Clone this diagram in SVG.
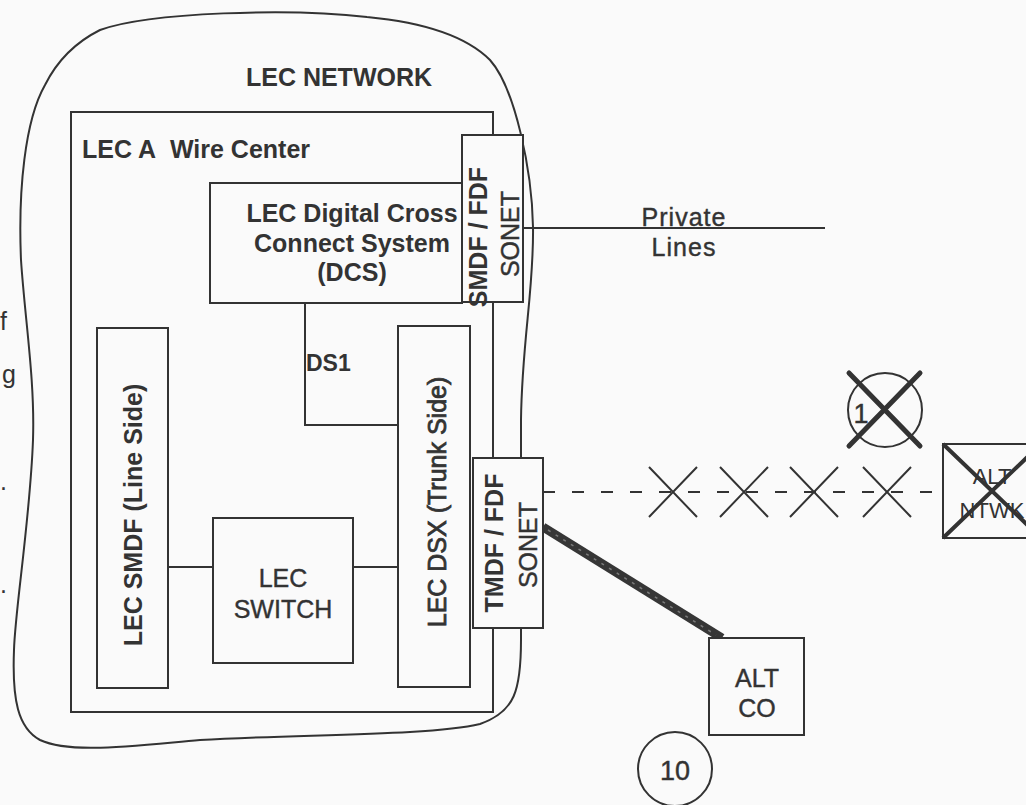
<svg xmlns="http://www.w3.org/2000/svg" width="1026" height="805" viewBox="0 0 1026 805">
<style>
.ln{fill:none;stroke:#333;stroke-width:2}
.bx{fill:#fafafa;stroke:#333;stroke-width:2}
.t{font-family:"Liberation Sans",Arial,sans-serif;font-size:25px;fill:#333}
.r{stroke:#333;stroke-width:0.4}
.b{font-weight:bold}
.m{text-anchor:middle}
</style>
<rect width="1026" height="805" fill="#fafafa"/>
<g id="lec-network">
<path class="ln" d="M100,30 C150,12 290,8 367,17 C420,22 465,35 490,60 C515,88 532,170 533,227 C534,290 522,340 521,420 L521,640 C521,690 515,712 480,724 C430,736 300,734 200,740 C130,746 70,754 40,740 C18,728 12,700 14,650 C15,610 30,520 33,440 C35,380 25,320 21,260 C18,190 25,120 45,85 C60,55 80,40 100,30 Z"/>
<text class="t b m" x="339" y="86">LEC NETWORK</text>
</g>
<g id="wire-center">
<rect class="ln" x="71" y="112" width="422" height="600"/>
<text class="t b" x="82" y="158">LEC A&#160; Wire Center</text>
</g>
<g id="connectors">
<polyline class="ln" points="305,303 305,425 398,425"/>
<line class="ln" x1="168" y1="567" x2="213" y2="567"/>
<line class="ln" x1="353" y1="567" x2="398" y2="567"/>
<line class="ln" x1="523" y1="228" x2="825" y2="228"/>
<line class="ln" x1="543" y1="492" x2="935" y2="492" stroke-dasharray="12 17"/>
<line x1="543" y1="527" x2="722" y2="638" stroke="#363636" stroke-width="9"/>
<line x1="548" y1="530" x2="716" y2="635" stroke="#7a7a7a" stroke-width="1.5" stroke-dasharray="3 6"/>
<g class="ln">
<path d="M649,467 L697,517 M697,467 L649,517"/>
<path d="M720,467 L768,517 M768,467 L720,517"/>
<path d="M790,467 L838,517 M838,467 L790,517"/>
<path d="M863,467 L911,517 M911,467 L863,517"/>
</g>
<text class="t r m" x="684" y="226" style="letter-spacing:1px">Private</text>
<text class="t r m" x="684" y="256" style="letter-spacing:1px">Lines</text>
<text class="t b" x="306" y="371" style="font-size:23px">DS1</text>
</g>
<g id="dcs">
<rect class="bx" x="210" y="183" width="252" height="120"/>
<text class="t b m" x="352" y="222">LEC Digital Cross</text>
<text class="t b m" x="352" y="252">Connect System</text>
<text class="t b m" x="352" y="281">(DCS)</text>
</g>
<g id="smdf-fdf-sonet">
<rect class="bx" x="462" y="135" width="61" height="167"/>
<text class="t b m" transform="translate(487,237) rotate(-90)">SMDF / FDF</text>
<text class="t r m" transform="translate(519,234) rotate(-90)">SONET</text>
</g>
<g id="lec-smdf">
<rect class="bx" x="97" y="328" width="71" height="360"/>
<text class="t b m" transform="translate(142,515) rotate(-90)">LEC SMDF (Line Side)</text>
</g>
<g id="lec-switch">
<rect class="bx" x="213" y="518" width="140" height="145"/>
<text class="t r m" x="283" y="587">LEC</text>
<text class="t r m" x="283" y="618">SWITCH</text>
</g>
<g id="lec-dsx">
<rect class="bx" x="398" y="326" width="72" height="361"/>
<text class="t r m" transform="translate(446,502) rotate(-90)" style="stroke-width:0.8">LEC DSX (Trunk Side)</text>
</g>
<g id="tmdf-fdf-sonet">
<rect class="bx" x="473" y="458" width="70" height="170"/>
<text class="t b m" transform="translate(503,543) rotate(-90)">TMDF / FDF</text>
<text class="t r m" transform="translate(537,545) rotate(-90)">SONET</text>
</g>
<g id="alt-co">
<rect class="bx" x="709" y="638" width="95" height="97"/>
<text class="t r m" x="757" y="687">ALT</text>
<text class="t r m" x="757" y="717">CO</text>
</g>
<g id="marker-10">
<circle class="ln" cx="675" cy="769" r="37"/>
<text class="t r m" x="675" y="780" style="font-size:27px">10</text>
</g>
<g id="marker-1">
<circle class="ln" cx="885" cy="410" r="37" stroke-width="2.5"/>
<text class="t r m" x="861" y="423" style="font-size:27px">1</text>
<path d="M849,373 L920,446 M920,373 L849,446" fill="none" stroke="#333" stroke-width="5" stroke-linecap="round"/>
</g>
<g id="alt-ntwk">
<rect class="bx" x="943" y="444" width="100" height="94"/>
<text class="t m" x="992" y="484" style="font-size:22px">ALT</text>
<text class="t m" x="992" y="518" style="font-size:22px">NTWK</text>
<path d="M943,444 L1041,538 M943,538 L1041,444" fill="none" stroke="#333" stroke-width="4"/>
</g>
<g id="margin-text">
<text class="t" x="0" y="330">f</text>
<text class="t" x="2" y="383">g</text>
<text class="t" x="0" y="490">.</text>
<text class="t" x="0" y="593">.</text>
</g>
</svg>
